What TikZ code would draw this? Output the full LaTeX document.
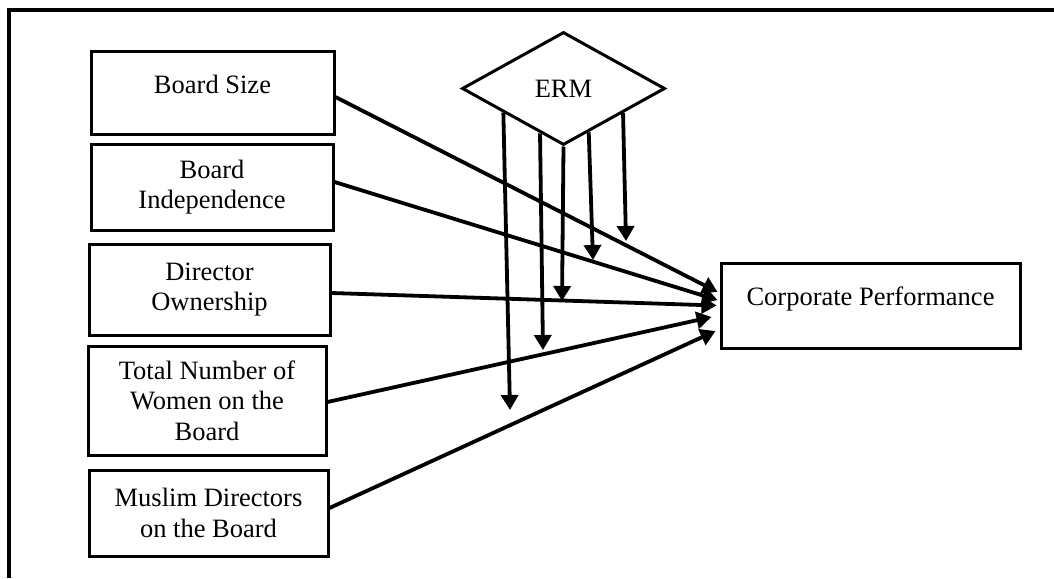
\documentclass[tikz,border=0pt]{standalone}
\usepackage{fontspec}
\setmainfont{Liberation Serif}
\usetikzlibrary{arrows.meta,shapes.geometric,calc}
\begin{document}
\begin{tikzpicture}[x=1pt,y=-1pt,
  txt/.style={font=\fontsize{26.5}{30.5}\selectfont},
  box/.style={draw,line width=3pt,rectangle,inner sep=0pt,align=center,txt},
  onebox/.style={draw,line width=3pt,rectangle,inner sep=0pt,text height=18pt,text depth=18pt,txt},
  arr/.style={line width=3.8pt,-{Triangle[length=15pt,width=17pt]}},
  frame/.style={line width=3.2pt}]
\useasboundingbox (0,0) rectangle (1054,578);
\draw[frame] (1054,10) -- (9,10) -- (9,578);

\node[onebox,minimum width=243pt,minimum height=82pt] (b1) at (212.5,93) {Board Size};
\node[box,minimum width=242pt,minimum height=86pt] (b2) at (212,187) {Board\\Independence};
\node[box,minimum width=241pt,minimum height=91pt] (b3) at (209.5,289.5) {Director\\Ownership};
\node[box,minimum width=238pt,minimum height=109pt] (b4) at (207,400.5) {Total Number of\\Women on the\\Board};
\node[box,minimum width=239pt,minimum height=86pt] (b5) at (208.5,513) {Muslim Directors\\on the Board};
\node[onebox,minimum width=299pt,minimum height=85pt] (cp) at (870.5,305.5) {Corporate Performance};
\node[draw,diamond,line width=3pt,inner sep=0pt,minimum width=203pt,minimum height=113pt,txt] (erm) at (563.5,88.5) {ERM};

\coordinate (ta) at (510,410);
\coordinate (tb) at (543,350);
\coordinate (tc) at (562,301);
\coordinate (td) at (593,260);
\coordinate (te) at (626,241);

\draw[arr] ($(b1.east)+(0,4)$) -- ($(cp.west)+(-2,-13.5)$);
\draw[arr] ($(b2.east)+(0,-5)$) -- ($(cp.west)+(-2,-5.5)$);
\draw[arr] ($(b3.east)+(0,3.5)$) -- ($(cp.west)+(-3,0)$);
\draw[arr] ($(b4.east)+(0,1.5)$) -- ($(cp.west)+(-8,11.5)$);
\draw[arr] ($(b5.east)+(0,-5)$) -- ($(cp.west)+(-4,25.5)$);

\draw[arr] ($(erm.west)!0.416!(erm.south)$) -- (ta);
\draw[arr] ($(erm.west)!0.772!(erm.south)$) -- (tb);
\draw[arr] (erm.south) -- (tc);
\draw[arr] ($(erm.south)!0.245!(erm.east)$) -- (td);
\draw[arr] ($(erm.south)!0.578!(erm.east)$) -- (te);
\end{tikzpicture}
\end{document}
